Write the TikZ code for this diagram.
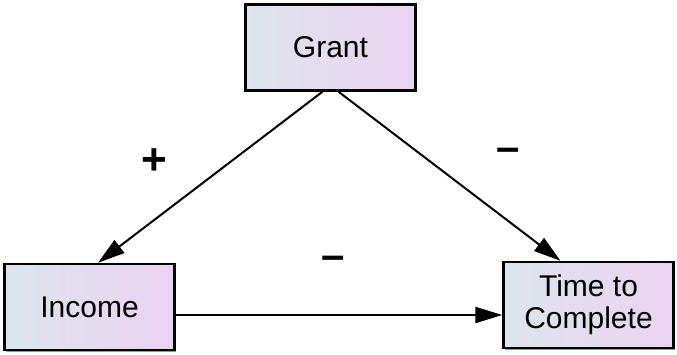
\documentclass[tikz,border=0pt]{standalone}
\usepackage{fontspec}
\setmainfont{Liberation Sans}
\usetikzlibrary{arrows.meta,shadows}
\definecolor{boxleft}{HTML}{DCE6EC}
\definecolor{boxright}{HTML}{EBD2F2}
\begin{document}
\begin{tikzpicture}[x=1pt,y=-1pt,
  box/.style={draw=black,line width=2.4pt,left color=boxleft,right color=boxright,
    minimum width=170pt,minimum height=86pt,inner sep=0pt,align=center,
    font=\fontsize{30}{32}\selectfont,
    drop shadow={shadow xshift=1.5pt,shadow yshift=-1.5pt,fill=black!40,opacity=1}},
  conn/.style={line width=2pt,-{Triangle[length=27pt,width=16pt]}},
  plussign/.style={inner sep=0pt,font=\bfseries\fontsize{44}{44}\selectfont},
  minussign/.style={inner sep=0pt,font=\bfseries\fontsize{42}{42}\selectfont}]
\useasboundingbox (0,0) rectangle (677,354);
\node[box] (grant) at (330.5,47.5) {Grant};
\node[box] (income) at (89.5,307) {Income};
\node[box] (time) at (588.5,305) {Time to\\Complete};
\draw[conn] ([xshift=-8pt]grant.south) -- ([xshift=8.5pt]income.north);
\draw[conn] ([xshift=8pt]grant.south) -- ([xshift=-28pt]time.north);
\draw[conn] ([yshift=-8pt]income.east) -- ([yshift=-10pt]time.west);
\node[plussign] (plus) at (154,162) {+};
\node[minussign] (minusA) at (508,155) {–};
\node[minussign] (minusB) at (333,263) {–};
\end{tikzpicture}
\end{document}
